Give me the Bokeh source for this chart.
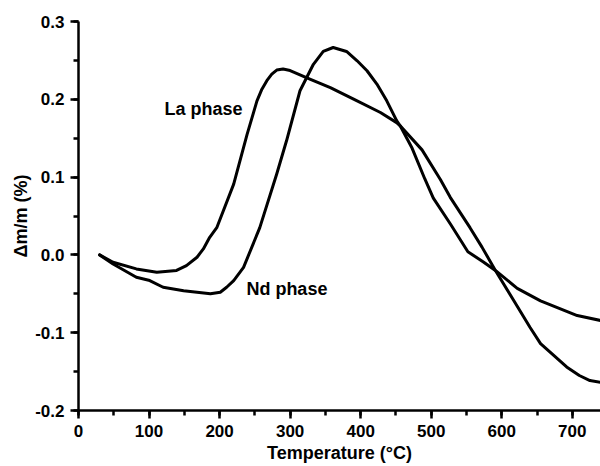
from bokeh.plotting import figure
from bokeh.models import Range1d, SingleIntervalTicker, Label, PrintfTickFormatter
from bokeh.embed import file_html
from bokeh.resources import INLINE

# La phase curve (temperature in °C, Δm/m in %)
la_temp = [30, 49, 82, 111, 139, 153, 168, 177, 186, 196, 220, 239, 253, 260, 267,
           274, 281, 290, 300, 328, 357, 390, 428, 451, 456, 473, 491, 503, 527,
           552, 574, 591, 622, 655, 707, 740]
la_dm = [0.0, -0.0095, -0.018, -0.0224, -0.020, -0.0138, -0.003, 0.0077, 0.0226,
         0.035, 0.091, 0.155, 0.198, 0.213, 0.224, 0.2324, 0.2376, 0.2389, 0.237,
         0.226, 0.215, 0.2003, 0.183, 0.170, 0.166, 0.137, 0.0976, 0.073, 0.040,
         0.004, -0.009, -0.020, -0.043, -0.059, -0.078, -0.0843]

# Nd phase curve
nd_temp = [30, 49, 82, 101, 120, 149, 168, 187, 201, 210, 220, 234, 257, 281, 295,
           314, 333, 347, 361, 380, 395, 409, 423, 437, 451, 456, 487, 513, 527,
           555, 572, 591, 617, 640, 655, 692, 710, 725, 740]
nd_dm = [0.0, -0.0116, -0.0288, -0.033, -0.0416, -0.046, -0.048, -0.050, -0.048,
         -0.0416, -0.033, -0.016, 0.035, 0.104, 0.147, 0.211, 0.245, 0.2615,
         0.2666, 0.2615, 0.2495, 0.2367, 0.2196, 0.198, 0.1725, 0.166, 0.135,
         0.097, 0.074, 0.035, 0.010, -0.020, -0.0587, -0.093, -0.114, -0.144,
         -0.155, -0.1615, -0.1637]

series_names = ["La phase", "Nd phase"]
x_title = "Temperature (°C)"
y_title = "Δm/m (%)"

FONT = "Liberation Sans"

p = figure(width=600, height=466,
           x_range=Range1d(0, 740), y_range=Range1d(-0.2, 0.30001),
           output_backend="svg", toolbar_location=None,
           min_border_left=78, min_border_right=0,
           min_border_top=21, min_border_bottom=56)
p.grid.visible = False
p.outline_line_color = None

xa = p.below[0]
xa.ticker = SingleIntervalTicker(interval=100, num_minor_ticks=2)
xa.axis_label = x_title
ya = p.left[0]
ya.ticker = SingleIntervalTicker(interval=0.1, num_minor_ticks=2)
ya.axis_label = y_title
ya.formatter = PrintfTickFormatter(format="%.1f")

for ax in (xa, ya):
    ax.axis_line_width = 2.5
    ax.axis_line_color = "black"
    ax.major_tick_line_width = 2.5
    ax.minor_tick_line_width = 2.5
    ax.major_tick_line_color = "black"
    ax.minor_tick_line_color = "black"
    ax.major_tick_out = 8
    ax.major_tick_in = 0
    ax.minor_tick_out = 5
    ax.minor_tick_in = 0
    ax.major_label_text_font = FONT
    ax.major_label_text_font_style = "bold"
    ax.major_label_text_font_size = "17px"
    ax.major_label_text_color = "black"
    ax.axis_label_text_font = FONT
    ax.axis_label_text_font_style = "bold"
    ax.axis_label_text_font_size = "18px"
    ax.axis_label_text_color = "black"
    ax.major_label_standoff = 6

xa.axis_label_standoff = 3
ya.axis_label_standoff = 1

p.line(la_temp, la_dm, line_color="black", line_width=3, line_join="round", line_cap="round")
p.line(nd_temp, nd_dm, line_color="black", line_width=3, line_join="round", line_cap="round")

p.add_layout(Label(x=122, y=0.187, text=series_names[0], text_font=FONT,
                   text_font_style="bold", text_font_size="18px", text_baseline="middle",
                   text_align="left", text_color="black"))
p.add_layout(Label(x=238, y=-0.0433, text=series_names[1], text_font=FONT,
                   text_font_style="bold", text_font_size="18px", text_baseline="middle",
                   text_align="left", text_color="black"))

open("out.html", "w").write(file_html(p, INLINE))
